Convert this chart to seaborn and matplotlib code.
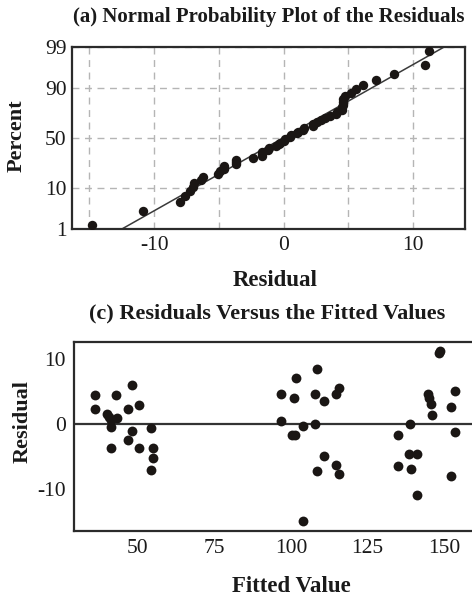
import numpy as np
import pandas as pd
import matplotlib
matplotlib.use("Agg")
import matplotlib.pyplot as plt
import seaborn as sns
from statistics import NormalDist

# ---- data ----
fitted_values = [36.1, 36.1, 48.3, 43.0, 50.5, 46.9, 40.0, 40.8, 41.5, 43.3,
                 41.3, 48.3, 54.5, 46.9, 41.3, 50.5, 55.0, 55.0, 54.5,
                 108.6, 101.7, 96.9, 101.0, 107.7, 110.9, 115.8, 114.7, 96.9,
                 103.9, 108.0, 100.5, 101.4, 110.9, 114.7, 115.8, 108.6, 103.9,
                 148.3, 148.5, 153.4, 152.0, 144.7, 145.0, 145.5, 145.9, 138.8,
                 153.4, 134.7, 138.5, 141.0, 134.7, 139.1, 152.0, 141.0]
residuals = [4.5, 2.3, 6.1, 4.5, 2.9, 2.3, 1.6, 1.1, 0.6, 1.0,
             -0.4, -1.1, -0.6, -2.4, -3.7, -3.7, -3.7, -5.1, -7.0,
             8.5, 7.1, 4.6, 4.1, 4.6, 3.6, 5.6, 4.6, 0.5,
             -0.3, 0.0, -1.7, -1.7, -4.9, -6.2, -7.6, -7.2, -14.8,
             10.9, 11.2, 5.2, 2.6, 4.7, 4.0, 3.2, 1.5, 0.1,
             -1.2, -1.7, -4.6, -4.6, -6.4, -6.9, -8.0, -10.9]
percent_ticks = [1, 10, 50, 90, 99]
resid_ticks = [-10, 0, 10]
fitted_ticks = [50, 75, 100, 125, 150]
resid_ticks_c = [-10, 0, 10]

# ---- style ----
sns.set_style("white")
plt.rcParams['font.family'] = ['Liberation Serif', 'DejaVu Serif']
plt.rcParams['axes.edgecolor'] = '#2b2b2b'
plt.rcParams['axes.linewidth'] = 1.6
plt.rcParams['axes.unicode_minus'] = False

W, H = 472, 597
fig = plt.figure(figsize=(W / 100, H / 100), dpi=100)
fig.patch.set_facecolor('white')

def fx(px):
    return px / W

def fy(py):
    return 1 - py / H

dot = '#1a1614'
nd = NormalDist()

# ---- (a) normal probability plot ----
ax1 = fig.add_axes([fx(72), fy(229), (465 - 72) / W, (229 - 47) / H])
r = np.sort(np.array(residuals))
n = len(r)
pos = (np.arange(1, n + 1) - 0.3) / (n + 0.4)
z = np.array([nd.inv_cdf(p) for p in pos])
df_a = pd.DataFrame({"Residual": r, "z": z})

mu, sd = r.mean(), r.std(ddof=1)
zl = np.array([-3.0, 3.0])
df_line = pd.DataFrame({"Residual": mu + sd * zl, "z": zl})
sns.lineplot(data=df_line, x="Residual", y="z", ax=ax1, color='#3a3a3a',
             lw=1.1, zorder=2)
sns.scatterplot(data=df_a, x="Residual", y="z", ax=ax1, color=dot, s=46,
                edgecolor=dot, linewidth=0, zorder=3)

zmin, zmax = nd.inv_cdf(0.01), nd.inv_cdf(0.99)
ax1.set_xlim(-16.35, 14.0)
ax1.set_ylim(zmin, zmax)
ax1.set_yticks([nd.inv_cdf(p / 100) for p in percent_ticks])
ax1.set_yticklabels([str(p) for p in percent_ticks])
ax1.set_xticks(resid_ticks)
ax1.set_xticks([-15, -5, 5], minor=True)
ax1.grid(True, which='both', axis='x', color='#b5b5b5', ls=(0, (5, 4)), lw=1.0)
ax1.grid(True, which='major', axis='y', color='#b5b5b5', ls=(0, (5, 4)), lw=1.0)
ax1.set_axisbelow(True)
ax1.tick_params(axis='both', which='major', labelsize=15.5, length=3, width=1.2,
                color='#2b2b2b', pad=2, labelcolor='#1a1a1a')
ax1.tick_params(axis='x', which='minor', length=0)
ax1.tick_params(axis='y', pad=1)
ax1.set_xlabel("")
ax1.set_ylabel("")
for s in ax1.spines.values():
    s.set_visible(True)

# ---- (c) residuals vs fitted ----
ax2 = fig.add_axes([fx(74), fy(531), (482 - 74) / W, (531 - 342) / H])
df_c = pd.DataFrame({"Fitted Value": fitted_values, "Residual": residuals})
ax2.axhline(0, color='#333333', lw=1.6, zorder=2)
sns.scatterplot(data=df_c, x="Fitted Value", y="Residual", ax=ax2, color=dot,
                s=50, edgecolor=dot, linewidth=0, zorder=3)
ax2.set_xlim(29.4, 162.2)
ax2.set_ylim(-16.4, 12.66)
ax2.set_xticks(fitted_ticks)
ax2.set_yticks(resid_ticks_c)
ax2.tick_params(axis='both', labelsize=15.5, length=3, width=1.2,
                color='#2b2b2b', pad=3, labelcolor='#1a1a1a')
ax2.set_xlabel("")
ax2.set_ylabel("")
ax2.spines['right'].set_visible(False)

# ---- texts ----
tc = '#1a1a1a'
fig.text(fx(269), fy(17), "(a) Normal Probability Plot of the Residuals",
         ha='center', va='center', fontsize=15, fontweight='bold', color=tc)
fig.text(fx(17), fy(136), "Percent", ha='center', va='center', rotation=90,
         fontsize=16, fontweight='bold', color=tc)
fig.text(fx(275), fy(281), "Residual", ha='center', va='center',
         fontsize=16.5, fontweight='bold', color=tc)
fig.text(fx(267.5), fy(313), "(c) Residuals Versus the Fitted Values",
         ha='center', va='center', fontsize=16, fontweight='bold', color=tc)
fig.text(fx(23), fy(422), "Residual", ha='center', va='center', rotation=90,
         fontsize=16, fontweight='bold', color=tc)
fig.text(fx(291), fy(586), "Fitted Value", ha='center', va='center',
         fontsize=16.5, fontweight='bold', color=tc)

fig.savefig("out.png", dpi=100, facecolor='white')
